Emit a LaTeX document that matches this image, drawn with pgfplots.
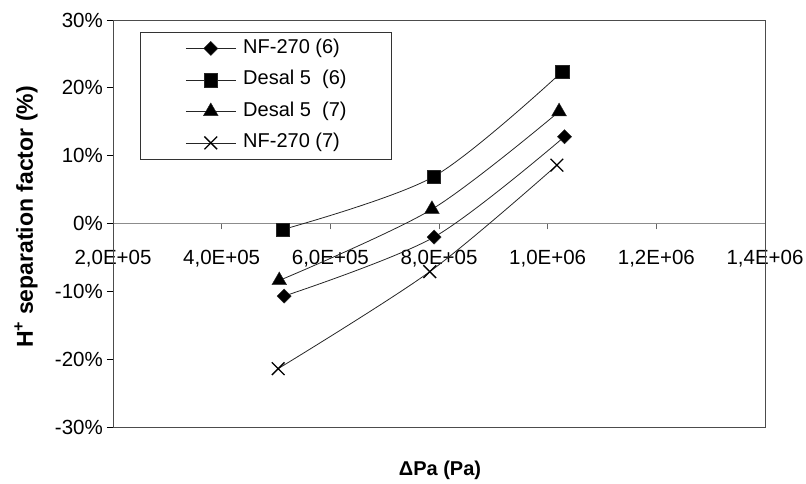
\documentclass[border=0pt]{standalone}
\usepackage{fontspec}
\setmainfont{Liberation Sans}
\usepackage{pgfplots}
\pgfplotsset{compat=1.18}
\begin{document}
\begin{tikzpicture}
\begin{axis}[
  scale only axis, width=652pt, height=407pt,
  xmin=2e5, xmax=1.4e6, ymin=-30, ymax=30,
  scaled x ticks=false,
  axis x line=middle, axis y line=left,
  axis line style={-},
  x axis line style={black!45, line width=0.8pt},
  y axis line style={black, line width=0.9pt},
  hide obscured x ticks=false, hide obscured y ticks=false,
  xtick={2e5,4e5,6e5,8e5,1e6,1.2e6,1.4e6},
  xticklabels={{2,0E+05},{4,0E+05},{6,0E+05},{8,0E+05},{1,0E+06},{1,2E+06},{1,4E+06}},
  ytick={-30,-20,-10,0,10,20,30},
  yticklabels={-30\%,-20\%,-10\%,0\%,10\%,20\%,30\%},
  tick align=outside, major tick length=6pt,
  tick style={black, line width=0.8pt},
  xtick style={black!60, line width=0.6pt},
  ticklabel style={font=\fontsize{20.5}{24}\selectfont},
  xticklabel style={anchor=north, inner sep=0pt, yshift=-20pt},
  yticklabel style={anchor=east, inner sep=0pt, xshift=-4pt},
  clip=false,
  legend style={
    at={(axis description cs:0.0414,0.9705)}, anchor=north west,
    draw=black!80, line width=0.8pt,
    inner xsep=45pt, inner ysep=6pt,
    font=\fontsize{20}{24}\selectfont,
    row sep=11.5pt,
    nodes={inner sep=0pt, text height=15pt, text depth=5pt},
    /tikz/every odd column/.append style={column sep=7pt},
  },
  legend cell align=left,
  legend image code/.code={\draw[mark repeat=2,mark phase=2] plot coordinates {(0pt,0pt) (25pt,0pt) (50pt,0pt)};},
]
\addplot[black!85, line width=0.8pt, smooth, tension=0.5, mark=square*, mark size=5pt,
  mark options={rotate=45, solid, fill=black, line width=0.4pt}]
  coordinates {(5.15e5,-10.7) (7.91e5,-2.0) (1.031e6,12.8)};
\addlegendentry{NF-270 (6)}
\addplot[black!85, line width=0.8pt, smooth, tension=0.5, mark=square*, mark size=6.8pt,
  mark options={solid, fill=black, line width=0.4pt}]
  coordinates {(5.12e5,-0.9) (7.90e5,6.9) (1.027e6,22.4)};
\addlegendentry{Desal 5\ \ (6)}
\addplot[black!85, line width=0.8pt, smooth, tension=0.5, mark=triangle*, mark size=8.5pt,
  mark options={solid, fill=black, line width=0.4pt}]
  coordinates {(5.06e5,-8.4) (7.87e5,2.1) (1.021e6,16.5)};
\addlegendentry{Desal 5\ \ (7)}
\addplot[black!85, line width=0.8pt, smooth, tension=0.5, mark=x, mark size=9pt,
  mark options={solid, line width=1.3pt, black}]
  coordinates {(5.04e5,-21.4) (7.83e5,-7.1) (1.017e6,8.6)};
\addlegendentry{NF-270 (7)}
\draw[black!70, line width=0.8pt] (rel axis cs:0,0) rectangle (rel axis cs:1,1);
\end{axis}
\node[rotate=90, anchor=base, font=\bfseries\fontsize{23}{28}\selectfont] at (-80pt,210pt) {H\textsuperscript{+} separation factor (\%)};
\node[anchor=base, font=\bfseries\fontsize{20}{24}\selectfont] at (327pt,-49pt) {ΔPa (Pa)};
\pgfresetboundingbox
\useasboundingbox (-113pt,-57pt) rectangle (693pt,427pt);
\end{tikzpicture}
\end{document}
